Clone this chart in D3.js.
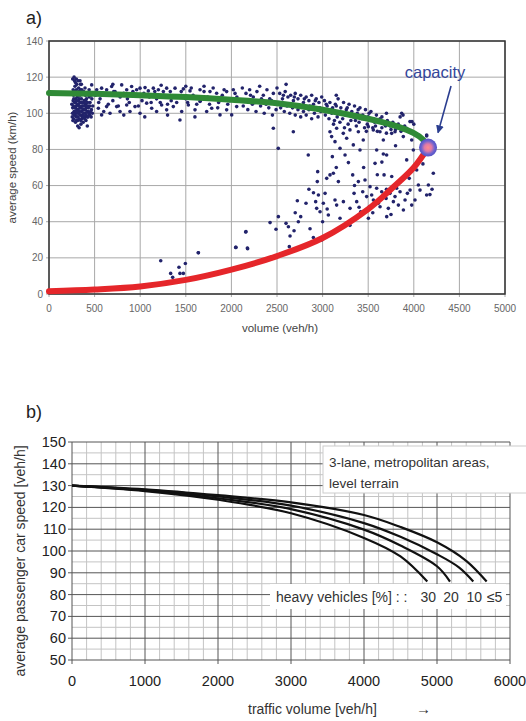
<!DOCTYPE html>
<html>
<head>
<meta charset="utf-8">
<script src="https://cdn.jsdelivr.net/npm/d3@7"></script>
<style>
  body { margin: 0; background: #fff; }
  svg { display: block; font-family: "Liberation Sans", Arial, sans-serif; }
</style>
</head>
<body>
<div id="chart"></div>
<script>
/* speed-flow charts, a) measured + b) design curves */

// ---- panel a data ----
const aXTicks = [0, 500, 1000, 1500, 2000, 2500, 3000, 3500, 4000, 4500, 5000];
const aYTicks = [0, 20, 40, 60, 80, 100, 120, 140];

// green (uncongested) branch: [volume, speed]
const freeBranch = [[0, 111.2], [500, 110.8], [1000, 110], [1500, 109], [2000, 107.5], [2500, 105.5],
  [3000, 102], [3500, 97], [3800, 93], [4000, 89], [4100, 85.5], [4156, 81]];
// red (congested) branch
const jamBranch = [[0, 1.5], [500, 2.5], [1000, 4.2], [1500, 7.8], [2000, 13.5], [2500, 21],
  [3000, 31], [3500, 47], [3750, 58], [4000, 70], [4156, 81]];
const capacity = [4156, 81];

// measured points: [volume, speed]
const obsLowVolume = [[260,119],[275,120],[290,117],[300,119],[320,118],[340,118],[355,116],[270,110],[285,112],
  [300,113],[315,111],[330,112],[345,113],[360,111],[380,112],[400,110],[420,111],[440,109],[265,107],[280,106],
  [295,108],[310,105],[325,107],[340,106],[355,108],[370,104],[385,107],[400,105],[415,106],[430,104],[450,106],
  [470,108],[260,103],[275,101],[290,103],[305,100],[320,102],[335,101],[350,103],[365,99],[380,102],[395,100],
  [410,103],[425,101],[445,99],[465,102],[255,98],[270,97],[285,99],[300,98],[315,96],[330,97],[345,99],[360,97],
  [375,95],[390,98],[405,96],[420,98],[350,94],[330,92],[270,100],[310,109],[360,113],[250,105],[440,113],
  [460,110],[480,104],[395,114],[290,95],[420,93],[300,104],[340,110],[380,98],[410,108],[265,113],
  [258,100],[262,96],[268,104],[272,108],[278,99],[282,103],[288,106],[292,101],[298,96],[302,107],[308,102],
  [312,98],[318,105],[322,100],[328,104],[332,108],[338,99],[342,103],[348,96],[352,106],[358,101],[362,104],
  [368,98],[372,102],[378,106],[382,100],[388,104],[392,97],[398,102],[402,107],[408,99],[412,104],[418,101],
  [422,106],[428,98],[432,103],[438,100],[448,104],[455,101],[462,98],[475,100],[285,115],[305,116],[325,114],
  [345,116],[280,118],[315,93],[300,101],[335,104],[365,106]];
const obsFree = [[468,115.7],[523,113],[577,113.9],[632,113],[687,114.8],[724,112],[797,115.7],[852,113],
  [906,114.8],[961,113],[998,113.9],[1053,114.2],[1089,112.4],[1144,113.9],[1199,113],[1254,112],[1290,113.9],
  [1382,113.9],[1473,113.5],[1546,112.4],[1656,113],[1765,112],[1838,111.1],[1948,112],[2021,113],
  [541,102.8],[577,99.1],[632,103.7],[669,100],[742,103.7],[779,101],[852,104.6],[888,101],[943,103.7],
  [998,100],[1071,105.6],[1126,102.8],[1180,101],[1235,104.6],[1290,101.9],[1363,103.7],[1436,96.3],[1455,101],
  [1528,104.6],[1601,101.9],[1656,106.5],[1729,101],[1784,102.8],[1875,99.1],[1948,101.9],[2003,99.1],[2058,103.7],
  [560,108],[620,110],[700,107],[780,109],[860,108],[940,110],[1020,107],[1100,109],[1180,108],[1260,110],
  [1340,107],[1420,109],[1500,108],[1580,110],[1660,107],[1740,109],[1820,108],[1900,110],[1980,107],[2060,109],
  [510,110],[545,106],[590,111],[650,105],[710,112],[760,104],[820,111],[880,106],[920,112],[980,104],[1040,111],
  [1120,106],[1160,112],[1220,106],[1300,105],[1330,112],[1400,106],[1450,112],[1520,106],[1560,114],[1620,105],
  [1700,112],[1760,105],[1800,114],[1860,106],[1920,113],[1960,105],[2040,111],[600,101],[820,99],[1050,98],
  [1300,99],[1600,98],[1850,103],[700,116],[1230,115.5],[1500,115],[1700,115]];
const obsNearCapacity = [[2120,114],[2160,111],[2200,113],[2240,109],[2280,112],[2310,115],[2350,110],[2390,113],
  [2420,108],[2460,111],[2500,114],[2130,104],[2180,102],[2230,105],[2270,101],[2320,104],[2360,100],[2410,103],
  [2450,99],[2490,102],[2530,111],[2560,108],[2590,112],[2620,109],[2650,110],[2680,107],[2700,111],[2730,108],
  [2760,110],[2790,106],[2820,109],[2850,107],[2880,110],[2900,105],[2930,108],[2960,106],[2990,109],[2540,103],
  [2580,101],[2610,104],[2640,100],[2670,103],[2700,99],[2730,102],[2760,98],[2790,101],[2820,99],[2850,102],
  [2880,97],[2910,100],[2950,98],[2980,101],[3020,107],[3050,104],[3080,106],[3110,103],[3140,105],[3170,108],
  [3200,103],[3230,106],[3260,102],[3290,105],[3320,101],[3350,104],[3380,100],[3410,103],[3440,99],[3470,102],
  [3500,98],[3030,99],[3070,97],[3100,100],[3130,96],[3160,98],[3190,95],[3220,97],[3250,99],[3280,94],[3310,96],
  [3340,98],[3370,93],[3400,95],[3430,97],[3460,92],[3490,94],[3530,101],[3560,97],[3590,99],[3620,95],[3650,98],
  [3680,94],[3710,96],[3740,93],[3770,95],[3800,91],[3830,94],[3860,90],[3550,92],[3600,90],[3650,92],[3700,89],
  [3750,91],[3900,93],[3950,90],[2600,116],[3150,110],[3700,100],[3850,98],[4000,94],[3882,99],[3980,95.4],
  [4141,87.5],[2150,107],[2210,110],[2260,106],[2330,108],[2380,105],[2440,107],[2520,106],[2570,110],[2630,105],
  [2690,109],[2740,104],[2800,108],[2860,104],[2920,107],[2970,103],[3040,105],[3090,102],[3150,104],[3210,100],
  [3270,103],[3330,99],[3390,102],[3450,97],[3510,100],[3570,95],[3630,97],[3690,93],[3760,94],[3810,92],
  [3870,92],[3120,94],[3240,92],[3360,96],[3480,90],[3580,93]];
const obsCongested = [[2460,91.7],[2514,80.6],[2679,89.8],[2843,76.9],[3081,89.8],[3099,87.1],[3136,84.3],
  [3154,91.7],[3191,80.6],[3227,88.9],[3264,86.2],[3300,90.8],[3337,82.5],[3392,89.8],[3410,79.7],[3446,85.2],
  [3501,92.6],[3556,90.8],[3593,79.7],[3629,89.8],[3666,85.2],[3702,76.9],[3757,88.9],[3794,89.8],[3867,100],
  [3885,87.1],[3922,91.7],[3958,95.4],[3977,85.2],[3995,79.7],[4050,88],[4141,88],
  [1638,22.8],[2047,25.8],[2175,25.4],[2160,34.5],[2424,39.5],[2489,35.8],[2515,42.8],[2599,39.1],[2625,37.2],
  [2643,32.1],[2635,26.2],[2687,35],[2723,51.6],[2734,40],[2760,42.8],[2818,50.2],[2862,36.1],[2899,31.3],
  [2924,51.1],[2935,47.4],[2942,62.2],[2946,67.7],[2954,54.8],[2972,45.5],[2990,29.9],[3008,50.2],[3027,55.7],
  [3045,64],[3063,43.7],[3081,65.9],[3107,76],[3118,66.8],[3136,52],[3154,49.2],[3173,62.2],[3191,41.9],
  [3228,51.1],[3246,76.9],[3283,72.7],[3301,47.4],[3330,65.9],[3345,55.7],[3374,51.1],[3392,62.2],[3418,45.5],
  [3440,56.6],[3465,63.1],[3483,53.9],[3502,41.9],[3513,48.3],[3520,59.4],[3538,54.8],[3557,52],[3575,72.3],
  [3593,58.5],[3611,50.2],[3630,48.3],[3648,56.6],[3666,77.5],[3674,65.9],[3696,52.9],[3703,42.8],[3721,47.4],
  [3739,55.7],[3758,65],[3776,51.1],[3794,53.9],[3812,58.5],[3831,49.2],[3849,56.6],[3886,46.5],[3904,52],
  [3922,74.2],[3930,55.7],[3959,57.5],[3977,49.2],[4013,52],[4032,68.6],[4050,60.3],[4068,57.5],[4141,54.8],
  [4160,60.3],[4214,66.8],[4177,55],
  [2700,45],[2850,58],[3000,40],[3150,70],[3300,38],[3450,70],[3600,66],[3750,44],[3850,62],[3950,64],[4100,72],
  [4200,58],[3400,48],[3550,45],[3700,58],[2900,56],[3050,47],[3350,60],[3650,73],[3800,82],
  [1225,18.4],[1334,11.4],[1356,9.2],[1425,14.8],[1436,11.4],[1473,11.4],[1495,16.9],[1637,22.8],[2050,25.8],
  [2156,34.3],[2178,25.1]];

// ---- panel b data ----
const bXTicks = [0, 1000, 2000, 3000, 4000, 5000, 6000];
const bYTicks = [50, 60, 70, 80, 90, 100, 110, 120, 130, 140, 150];
const heavyShares = ["30", "20", "10", "\u22645"];
const curve30 = [[0, 130], [1000, 127.5], [2000, 123.5], [3000, 117.3], [4000, 106], [4500, 97.5], [4867, 86]];
const curve20 = [[0, 130], [1000, 127.8], [2000, 124.2], [3000, 119.2], [4000, 109.8], [4500, 102.5], [5000, 93], [5178, 86]];
const curve10 = [[0, 130], [1000, 128], [2000, 125], [3000, 120.8], [4000, 112.8], [4500, 106.5], [5000, 98.5], [5300, 92.5], [5497, 86]];
const curve5 = [[0, 130], [1000, 128.3], [2000, 125.6], [3000, 122.3], [4000, 116.5], [4500, 111], [5000, 104], [5400, 95.5], [5680, 86]];
const speedCurves = [curve30, curve20, curve10, curve5];

const width = 526, height = 721;

const svg = d3.select("#chart")
  .append("svg")
  .attr("width", width)
  .attr("height", height)
  .attr("viewBox", [0, 0, width, height]);

// ================= panel a =================
const ma = { left: 49, right: 505, top: 41, bottom: 294 };

let xa = d3.scaleLinear().domain([0, 5000]).range([ma.left, ma.right]);
let ya = d3.scaleLinear().domain([0, 140]).range([ma.bottom, ma.top]);

svg.append("text")
  .attr("x", 26).attr("y", 24)
  .text("a)")
  .style("font-family", "'Liberation Sans Narrow', 'Arial Narrow', sans-serif")
  .style("font-size", "18px")
  .attr("fill", "#222");

// grid
svg.append("g")
  .selectAll("line")
  .data(aXTicks)
  .join("line")
  .attr("x1", d => xa(d)).attr("x2", d => xa(d))
  .attr("y1", ma.top).attr("y2", ma.bottom + 3)
  .attr("stroke", "#a8a8a8");

svg.append("g")
  .selectAll("line")
  .data(aYTicks)
  .join("line")
  .attr("x1", ma.left - 3).attr("x2", ma.right)
  .attr("y1", d => ya(d)).attr("y2", d => ya(d))
  .attr("stroke", "#a8a8a8");

svg.append("rect")
  .attr("x", ma.left).attr("y", ma.top)
  .attr("width", ma.right - ma.left).attr("height", ma.bottom - ma.top)
  .attr("fill", "none")
  .attr("stroke", "#333")
  .attr("stroke-width", 1.5);

// tick labels
svg.append("g")
  .selectAll("text")
  .data(aXTicks)
  .join("text")
  .attr("x", d => xa(d))
  .attr("y", ma.bottom + 18)
  .attr("text-anchor", "middle")
  .text(d => d)
  .style("font-size", "10px")
  .attr("fill", "#666");

svg.append("g")
  .selectAll("text")
  .data(aYTicks)
  .join("text")
  .attr("x", ma.left - 6)
  .attr("y", d => ya(d) + 3.5)
  .attr("text-anchor", "end")
  .text(d => d)
  .style("font-size", "10px")
  .attr("fill", "#666");

svg.append("text")
  .attr("x", (ma.left + ma.right) / 2 + 3)
  .attr("y", 332)
  .attr("text-anchor", "middle")
  .text("volume (veh/h)")
  .style("font-size", "11.5px")
  .attr("fill", "#444");

svg.append("text")
  .attr("transform", `translate(16,${(ma.top + ma.bottom) / 2}) rotate(-90)`)
  .attr("text-anchor", "middle")
  .text("average speed (km/h)")
  .style("font-size", "11.5px")
  .attr("fill", "#444");

// measurements
const allObs = obsLowVolume.concat(obsFree, obsNearCapacity, obsCongested);
svg.append("g")
  .selectAll("circle")
  .data(allObs)
  .join("circle")
  .attr("cx", d => xa(d[0]))
  .attr("cy", d => ya(d[1]))
  .attr("r", 1.8)
  .attr("fill", "#22236b");

let lineA = d3.line()
  .x(d => xa(d[0]))
  .y(d => ya(d[1]))
  .curve(d3.curveCatmullRom.alpha(0.5));

svg.append("path")
  .datum(freeBranch)
  .attr("d", lineA)
  .attr("fill", "none")
  .attr("stroke", "#2f8a36")
  .attr("stroke-width", 6)
  .attr("stroke-linecap", "round");

svg.append("path")
  .datum(jamBranch)
  .attr("d", lineA)
  .attr("fill", "none")
  .attr("stroke", "#e5262a")
  .attr("stroke-width", 6)
  .attr("stroke-linecap", "round");

// capacity point
const defs = svg.append("defs");
const grad = defs.append("radialGradient").attr("id", "capGrad");
grad.append("stop").attr("offset", "0%").attr("stop-color", "#ff8c8c");
grad.append("stop").attr("offset", "40%").attr("stop-color", "#e07aa8");
grad.append("stop").attr("offset", "75%").attr("stop-color", "#6a62d0");
grad.append("stop").attr("offset", "100%").attr("stop-color", "#5552c4");

svg.append("circle")
  .attr("cx", xa(capacity[0]))
  .attr("cy", ya(capacity[1]))
  .attr("r", 9)
  .attr("fill", "url(#capGrad)");

defs.append("marker")
  .attr("id", "arrowHead")
  .attr("viewBox", "0 0 10 10")
  .attr("refX", 9).attr("refY", 5)
  .attr("markerWidth", 5).attr("markerHeight", 5)
  .attr("orient", "auto")
  .append("path")
  .attr("d", "M0,0 L10,5 L0,10 z")
  .attr("fill", "#2a3d8f");

svg.append("line")
  .attr("x1", xa(capacity[0]) + 23).attr("y1", 86)
  .attr("x2", xa(capacity[0]) + 10).attr("y2", ya(capacity[1]) - 15)
  .attr("stroke", "#2a3d8f")
  .attr("stroke-width", 1.6)
  .attr("marker-end", "url(#arrowHead)");

svg.append("text")
  .attr("x", xa(capacity[0]) + 7)
  .attr("y", 78)
  .attr("text-anchor", "middle")
  .text("capacity")
  .style("font-size", "16.5px")
  .attr("fill", "#34469a");

// ================= panel b =================
const mb = { left: 72, right: 510, top: 442, bottom: 660 };

let xb = d3.scaleLinear().domain([0, 6000]).range([mb.left, mb.right]);
let yb = d3.scaleLinear().domain([50, 150]).range([mb.bottom, mb.top]);

svg.append("text")
  .attr("x", 26).attr("y", 418)
  .text("b)")
  .style("font-family", "'Liberation Sans Narrow', 'Arial Narrow', sans-serif")
  .style("font-size", "18px")
  .attr("fill", "#222");

// minor grid
svg.append("g")
  .selectAll("line")
  .data(d3.range(0, 6001, 200).filter(d => d % 1000 !== 0))
  .join("line")
  .attr("x1", d => xb(d)).attr("x2", d => xb(d))
  .attr("y1", mb.top).attr("y2", mb.bottom)
  .attr("stroke", "#c4c4c4");

svg.append("g")
  .selectAll("line")
  .data(d3.range(55, 150, 10))
  .join("line")
  .attr("x1", mb.left).attr("x2", mb.right)
  .attr("y1", d => yb(d)).attr("y2", d => yb(d))
  .attr("stroke", "#c4c4c4");

// major grid
svg.append("g")
  .selectAll("line")
  .data(bXTicks)
  .join("line")
  .attr("x1", d => xb(d)).attr("x2", d => xb(d))
  .attr("y1", mb.top).attr("y2", mb.bottom + 4)
  .attr("stroke", "#555");

svg.append("g")
  .selectAll("line")
  .data(bYTicks)
  .join("line")
  .attr("x1", mb.left - 4).attr("x2", mb.right)
  .attr("y1", d => yb(d)).attr("y2", d => yb(d))
  .attr("stroke", "#555");

svg.append("g")
  .selectAll("text")
  .data(bXTicks)
  .join("text")
  .attr("x", d => xb(d))
  .attr("y", mb.bottom + 26)
  .attr("text-anchor", "middle")
  .text(d => d)
  .style("font-size", "14.5px")
  .attr("fill", "#222");

svg.append("g")
  .selectAll("text")
  .data(bYTicks)
  .join("text")
  .attr("x", mb.left - 6)
  .attr("y", d => yb(d) + 5)
  .attr("text-anchor", "end")
  .text(d => d)
  .style("font-size", "14.5px")
  .attr("fill", "#222");

svg.append("text")
  .attr("transform", `translate(25,${(mb.top + mb.bottom) / 2 + 10}) rotate(-90)`)
  .attr("text-anchor", "middle")
  .text("average passenger car speed [veh/h]")
  .style("font-size", "14px")
  .attr("fill", "#333");

svg.append("text")
  .attr("x", 248)
  .attr("y", 714)
  .text("traffic volume [veh/h]")
  .style("font-size", "14px")
  .attr("fill", "#333");

svg.append("text")
  .attr("x", 416)
  .attr("y", 714)
  .text("\u2192")
  .style("font-size", "15px")
  .attr("fill", "#333");

// curves
let lineB = d3.line()
  .x(d => xb(d[0]))
  .y(d => yb(d[1]))
  .curve(d3.curveCatmullRom.alpha(0.5));

svg.append("g")
  .selectAll("path")
  .data(speedCurves)
  .join("path")
  .attr("d", lineB)
  .attr("fill", "none")
  .attr("stroke", "#111")
  .attr("stroke-width", 2.2);

// note boxes
svg.append("rect")
  .attr("x", 323).attr("y", 446)
  .attr("width", 210).attr("height", 47)
  .attr("fill", "#fff")
  .attr("stroke", "#ccc");

svg.append("text")
  .attr("x", 329).attr("y", 467)
  .text("3-lane, metropolitan areas,")
  .style("font-size", "13.5px")
  .attr("fill", "#333");

svg.append("text")
  .attr("x", 329).attr("y", 488)
  .text("level terrain")
  .style("font-size", "13.5px")
  .attr("fill", "#333");

svg.append("rect")
  .attr("x", 270).attr("y", 584)
  .attr("width", 236).attr("height", 25)
  .attr("fill", "#fff");

svg.append("text")
  .attr("x", 276).attr("y", 602)
  .text("heavy vehicles [%] : :")
  .style("font-size", "14px")
  .attr("fill", "#333");

// share labels sit under the curve ends; the last one is nudged right to clear "10"
svg.append("g")
  .selectAll("text")
  .data(speedCurves)
  .join("text")
  .attr("x", (d, i) => xb(d[d.length - 1][0]) + (i === 3 ? 8 : 1))
  .attr("y", 602)
  .attr("text-anchor", "middle")
  .text((d, i) => heavyShares[i])
  .style("font-size", "14px")
  .attr("fill", "#333");
</script>
</body>
</html>
